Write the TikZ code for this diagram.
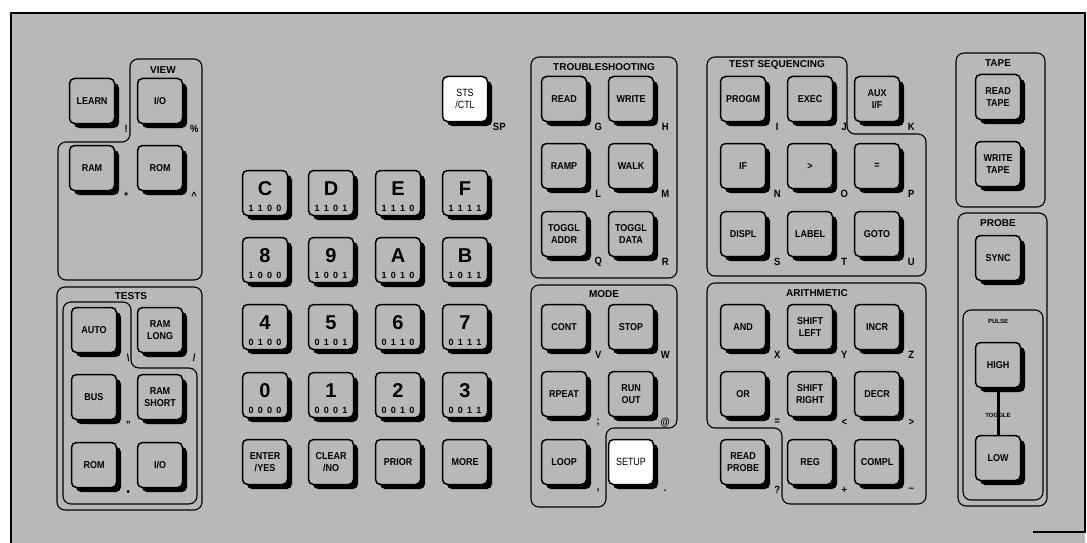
\documentclass[tikz,border=0pt]{standalone}
\usepackage{fontspec}
\setmainfont{Liberation Sans}
\newfontfamily\kf{Liberation Sans}[FakeStretch=0.9]
\newfontfamily\wf{Liberation Sans}[FakeStretch=0.85]
\usetikzlibrary{shadows}
\definecolor{stip}{gray}{0.72}
\newcommand\bn[4]{#1\hspace{4.3pt}#2\hspace{4.3pt}#3\hspace{4.3pt}#4}
\tikzset{
  kbd/.style={draw=black, line width=1.5pt, fill=stip, rounded corners=5pt,
    minimum width=45pt, minimum height=45pt, inner sep=1pt, align=center,
    font=\kf\bfseries\fontsize{10}{12.5}\selectfont,
    drop shadow={shadow xshift=4.5pt, shadow yshift=-4.5pt, fill=black, opacity=1}},
  wkbd/.style={kbd, fill=white, font=\wf\fontsize{10.5}{12.5}\selectfont},
  grp/.style={draw=black, line width=1.1pt, rounded corners=8pt},
  ttl/.style={font=\bfseries\fontsize{10}{10}\selectfont, inner sep=0pt},
  small/.style={font=\bfseries\fontsize{6}{6}\selectfont, inner sep=0pt},
  fn/.style={font=\kf\bfseries\fontsize{10.5}{10.5}\selectfont, inner sep=0pt},
  hexl/.style={font=\bfseries\fontsize{20}{20}\selectfont, inner sep=0pt},
  binl/.style={font=\bfseries\fontsize{9}{9}\selectfont, inner sep=0pt},
}
\newcommand\K[4]{\node[kbd] (#1) at (#2) {#3}; \node[fn] (#1-f) at ([shift={(11,5)}]#1.south east) {#4};}
\newcommand\KW[4]{\node[wkbd] (#1) at (#2) {#3}; \node[fn] (#1-f) at ([shift={(11,5)}]#1.south east) {#4};}
\newcommand\KN[3]{\node[kbd] (#1) at (#2) {#3};}
\newcommand\HX[4]{\node[kbd] (#1) at (#2) {}; \node[hexl] (#1-l) at ([shift={(0,-4)}]#1.center) {#3}; \node[binl] (#1-b) at ([shift={(0,15)}]#1.center) {#4};}
\begin{document}
\begin{tikzpicture}[x=1pt,y=-1pt]
\useasboundingbox (0,0) rectangle (1087,543);
\fill[stip] (11,13) rectangle (1085,543);
\draw[line width=1.2pt] (11,543) -- (11,13) -- (1085,13) -- (1085,532) -- (1033,532);

% ---- group outlines
\draw[grp] (130,59) -- (202,59) -- (202,280) -- (58,280) -- (58,142) -- (130,142) -- cycle;
\draw[grp] (57,287) rectangle (202,510);
\draw[grp] (63,302) -- (131,302) -- (131,368) -- (197,368) -- (197,504) -- (63,504) -- cycle;
\draw[grp] (531,57) rectangle (677,278);
\draw[grp] (531,285) -- (677,285) -- (677,428) -- (606,428) -- (606,507) -- (531,507) -- cycle;
\draw[grp] (707,57) -- (847,57) -- (847,134) -- (926,134) -- (926,276) -- (707,276) -- cycle;
\draw[grp] (707,283) -- (926,283) -- (926,504) -- (782,504) -- (782,428) -- (707,428) -- cycle;
\draw[grp] (956,53) rectangle (1045,207);
\draw[grp] (958,213) rectangle (1047,506);
\draw[grp] (963,310) rectangle (1043,500);

% ---- titles
\node[ttl] (t-view) at (163,70) {VIEW};
\node[ttl] (t-tests) at (131,296) {TESTS};
\node[ttl] (t-trbl) at (604,67) {TROUBLESHOOTING};
\node[ttl] (t-mode) at (604,294) {MODE};
\node[ttl] (t-seq) at (777,65) {TEST SEQUENCING};
\node[ttl] (t-arith) at (817,293) {ARITHMETIC};
\node[ttl] (t-tape) at (998,63) {TAPE};
\node[ttl] (t-probe) at (998,223) {PROBE};
\node[small] (t-pulse) at (998,321) {PULSE};

% ---- left cluster
\K{learn}{92,101}{LEARN}{!}
\K{vio}{160,101}{I/O}{\%}
\K{ram}{92,168}{RAM}{*}
\K{rom}{160,168}{ROM}{\textasciicircum}
\K{auto}{94,330}{AUTO}{\textbackslash}
\K{ramlong}{160,330}{RAM\\LONG}{/}
\K{bus}{94,397}{BUS}{"}
\KN{ramshort}{160,397}{RAM\\SHORT}
\K{trom}{94,465}{ROM}{\textbullet}
\KN{tio}{160,465}{I/O}

% ---- hex keypad
\HX{hC}{265,193}{C}{\bn 1100}
\HX{hD}{331,193}{D}{\bn 1101}
\HX{hE}{398,193}{E}{\bn 1110}
\HX{hF}{465,193}{F}{\bn 1111}
\HX{h8}{265,260}{8}{\bn 1000}
\HX{h9}{331,260}{9}{\bn 1001}
\HX{hA}{398,260}{A}{\bn 1010}
\HX{hB}{465,260}{B}{\bn 1011}
\HX{h4}{265,327}{4}{\bn 0100}
\HX{h5}{331,327}{5}{\bn 0101}
\HX{h6}{398,327}{6}{\bn 0110}
\HX{h7}{465,327}{7}{\bn 0111}
\HX{h0}{265,395}{0}{\bn 0000}
\HX{h1}{331,395}{1}{\bn 0001}
\HX{h2}{398,395}{2}{\bn 0010}
\HX{h3}{465,395}{3}{\bn 0011}
\KN{enter}{265,462}{ENTER\\/YES}
\KN{clear}{331,462}{CLEAR\\/NO}
\KN{prior}{398,462}{PRIOR}
\KN{more}{465,462}{MORE}
\KW{sts}{465,99}{STS\\/CTL}{SP}

% ---- troubleshooting
\K{read}{564,99}{READ}{G}
\K{write}{631,99}{WRITE}{H}
\K{ramp}{564,166}{RAMP}{L}
\K{walk}{631,166}{WALK}{M}
\K{tgaddr}{564,234}{TOGGL\\ADDR}{Q}
\K{tgdata}{631,234}{TOGGL\\DATA}{R}

% ---- mode
\K{cont}{564,327}{CONT}{V}
\K{stop}{631,327}{STOP}{W}
\K{rpeat}{564,394}{RPEAT}{;}
\K{runout}{631,394}{RUN\\OUT}{@}
\K{loop}{564,462}{LOOP}{,}
\KW{setup}{631,462}{SETUP}{.}

% ---- test sequencing
\K{progm}{743,99}{PROGM}{I}
\K{exec}{810,99}{EXEC}{J}
\K{aux}{877,99}{AUX\\I/F}{K}
\K{if}{743,166}{IF}{N}
\K{gt}{810,166}{>}{O}
\K{eq}{877,166}{=}{P}
\K{displ}{743,234}{DISPL}{S}
\K{label}{810,234}{LABEL}{T}
\K{goto}{877,234}{GOTO}{U}

% ---- arithmetic
\K{and}{743,327}{AND}{X}
\K{shl}{810,327}{SHIFT\\LEFT}{Y}
\K{incr}{877,327}{INCR}{Z}
\K{or}{743,394}{OR}{=}
\K{shr}{810,394}{SHIFT\\RIGHT}{<}
\K{decr}{877,394}{DECR}{>}
\K{rprobe}{743,462}{READ\\PROBE}{?}
\K{reg}{810,462}{REG}{+}
\K{compl}{877,462}{COMPL}{\textendash}

% ---- tape / probe
\KN{rtape}{998,97}{READ\\TAPE}
\KN{wtape}{998,164}{WRITE\\TAPE}
\KN{sync}{998,258}{SYNC}
\KN{high}{998,365}{HIGH}
\KN{low}{998,458}{LOW}
\draw[line width=3pt] (high.south) -- (low.north);
\node[small] (t-toggle) at (998,415) {TOGGLE};
\end{tikzpicture}
\end{document}
